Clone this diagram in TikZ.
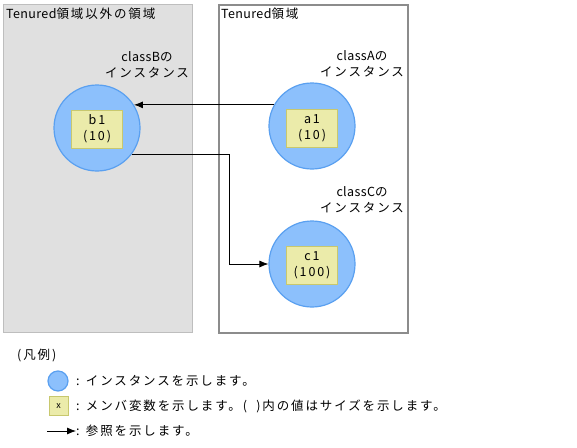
\documentclass[tikz,border=0pt]{standalone}
\usepackage{fontspec}
\setmainfont{Noto Sans CJK JP}[LetterSpace=15]
\newfontfamily\latn{Noto Sans CJK JP}[LetterSpace=3]
\usetikzlibrary{arrows.meta}
\definecolor{instfill}{RGB}{140,192,252}
\definecolor{instline}{RGB}{90,160,240}
\definecolor{membfill}{RGB}{235,235,170}
\definecolor{membline}{RGB}{200,200,110}
\definecolor{lgray}{RGB}{224,224,224}
\definecolor{lgrayline}{RGB}{190,190,190}
\definecolor{rline}{RGB}{140,140,140}
\begin{document}
\begin{tikzpicture}[x=1pt,y=-1pt,
  every node/.style={font=\fontsize{12.5}{16}\selectfont, inner sep=0pt},
  inst/.style={circle, draw=instline, fill=instfill, line width=1.2pt, minimum size=86pt},
  memb/.style={draw=membline, fill=membfill, line width=0.8pt, minimum width=51pt, minimum height=38pt, align=center},
  lregion/.style={draw=lgrayline, fill=lgray, line width=1pt, anchor=north west, minimum width=189pt, minimum height=328pt},
  rregion/.style={draw=rline, fill=white, line width=1.5pt, anchor=north west, minimum width=189pt, minimum height=328pt},
  lbl/.style={align=center},
  ref/.style={-{Latex[length=9pt,width=7pt]}, line width=0.8pt}
]
\useasboundingbox (0,0) rectangle (577,447);
\node[lregion] (L) at (3,4) {};
\node[rregion] (R) at (218,4) {};
\node[anchor=west] (Lt) at (6,14) {{\latn Tenured}領域以外の領域};
\node[anchor=west] (Rt) at (221,14) {{\latn Tenured}領域};

\node[inst] (b1) at (97,128) {};
\node[inst] (a1) at (312,126) {};
\node[inst] (c1) at (312,264) {};
\node[memb] (mb) at (97,129) {b1\\(10)};
\node[memb] (ma) at (312,128) {a1\\(10)};
\node[memb] (mc) at (312,265) {c1\\(100)};

\node[lbl] (lb) at (147,65) {{\latn classB}の\\インスタンス};
\node[lbl] (la) at (362,64) {{\latn classA}の\\インスタンス};
\node[lbl] (lc) at (362,200) {{\latn classC}の\\インスタンス};

\draw[ref] (a1.151) -- (a1.151 -| b1.32);
\coordinate (bend) at (229,154);
\draw[ref] (b1.-37) -- (b1.-37 -| bend) |- (c1.west);

% legend
\node[anchor=west] (lg) at (17,355) {(凡例)};
\node[circle, draw=instline, fill=instfill, line width=1.2pt, minimum size=20pt] (lgc) at (58,381) {};
\node[anchor=west] (lgct) at (76,381) {: インスタンスを示します。};
\node[draw=membline, fill=membfill, line width=0.8pt, minimum size=19pt, font=\fontsize{9}{10}\selectfont] (lgm) at (58.5,406) {x};
\node[anchor=west] (lgmt) at (76,406) {: メンバ変数を示します。(\ \ )内の値はサイズを示します。};
\coordinate (lga0) at (47,431);
\node[anchor=west] (lgat) at (76,431) {: 参照を示します。};
\draw[ref] (lga0) -- (lgat.west);
\end{tikzpicture}
\end{document}
